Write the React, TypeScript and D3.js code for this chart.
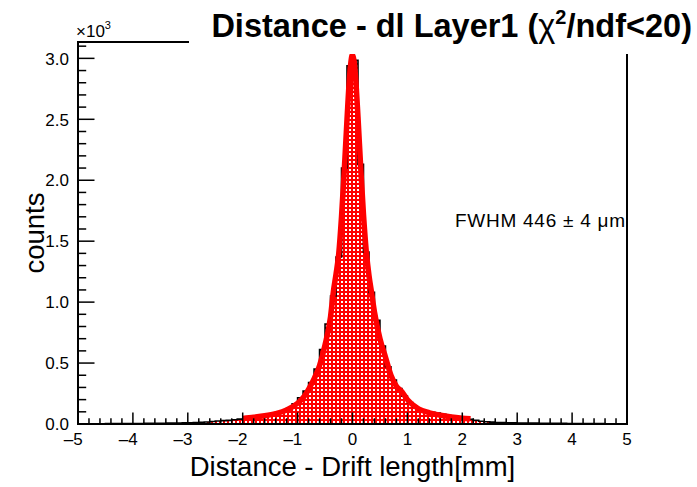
import React from "react";
import * as d3 from "d3";

// ---- data ----
const xDomain: [number, number] = [-5, 5];
const binWidth = 0.1;
// counts for bins left of 0, going outward from 0 towards -5
const countsNegOutward = [
  2940, 2100, 1370, 1050, 820, 610, 450, 340, 270, 215,
  165, 130, 108, 92, 80, 70, 62, 55, 50, 45,
  40, 35, 30, 28, 25, 20, 16, 14, 12, 10,
  9, 8, 8, 7, 6, 6, 5, 5, 4, 4,
  4, 3, 3, 3, 3, 2, 2, 2, 2, 2,
];
// counts for bins right of 0, going outward from 0 towards +5
const countsPosOutward = [
  2985, 2130, 1410, 1080, 850, 640, 470, 360, 290, 230,
  175, 140, 115, 100, 95, 90, 80, 70, 60, 50,
  45, 38, 30, 22, 18, 15, 12, 12, 10, 10,
  8, 8, 7, 7, 6, 6, 5, 5, 5, 4,
  4, 4, 3, 3, 3, 3, 2, 2, 2, 2,
];
const counts = [...countsNegOutward.slice().reverse(), ...countsPosOutward];

// fitted curve samples
const fitX = [-2.0, -1.8, -1.6, -1.4, -1.2, -1.0, -0.9, -0.8, -0.7, -0.6, -0.5, -0.4, -0.35, -0.3, -0.25, -0.2, -0.15, -0.1, -0.05, 0,
  0.05, 0.1, 0.15, 0.2, 0.25, 0.3, 0.35, 0.4, 0.5, 0.6, 0.7, 0.8, 0.9, 1.0, 1.2, 1.4, 1.6, 1.8, 2.0, 2.15];
const fitY = [45, 55, 67, 85, 115, 170, 215, 285, 370, 480, 650, 880, 1080, 1230, 1400, 1700, 2080, 2500, 2870, 3030,
  2880, 2520, 2100, 1720, 1420, 1220, 1070, 920, 700, 550, 400, 310, 265, 200, 125, 92, 72, 58, 48, 42];

const xMajorTicks = [-5, -4, -3, -2, -1, 0, 1, 2, 3, 4, 5];
const yMajorTicks = [0, 500, 1000, 1500, 2000, 2500, 3000];
const yTickLabels = ["0.0", "0.5", "1.0", "1.5", "2.0", "2.5", "3.0"];

const titleMain = "Distance - dl Layer1 (";
const titleChi = "χ";
const titleSup = "2";
const titleRest = "/ndf<20)";
const xTitle = "Distance - Drift length[mm]";
const yTitle = "counts";
const fwhmText = "FWHM 446 ± 4 μm";

// ---- layout ----
const W = 697;
const H = 487;
const L = 78, R = 627, T = 42, B = 424;
const FONT = "'Liberation Sans', Arial, Helvetica, sans-serif";

export default function App() {
  const maxC = d3.max(counts) as number;
  const x = d3.scaleLinear().domain(xDomain).range([L, R]);
  const y = d3.scaleLinear().domain([0, 1.05 * maxC]).range([B, T]);

  const stepPts: [number, number][] = counts.map((c, i) => [xDomain[0] + i * binWidth, c]);
  stepPts.push([xDomain[1], counts[counts.length - 1]]);

  const line = d3.line<[number, number]>().x(d => x(d[0])).y(d => y(d[1])).curve(d3.curveStepAfter);
  const area = d3.area<[number, number]>().x(d => x(d[0])).y0(y(0)).y1(d => y(d[1])).curve(d3.curveStepAfter);

  const fitPts: [number, number][] = fitX.map((v, i) => [v, fitY[i]]);
  const fitLine = d3.line<[number, number]>().x(d => x(d[0])).y(d => y(d[1])).curve(d3.curveMonotoneX);

  const xMinor = d3.range(-5, 5.0001, 0.2).filter(v => Math.abs(v - Math.round(v)) > 1e-6);
  const yMinor = d3.range(0, y.domain()[1], 100).filter(v => v % 500 !== 0);

  const xMajLen = 11.5, xMinLen = 5.7, yMajLen = 16.5, yMinLen = 8.2;

  return (
    <svg width={W} height={H} style={{ position: "absolute", left: 0, top: 0, background: "white" }} fontFamily={FONT}>
      <defs>
        <pattern id="chk" width={4} height={4} patternUnits="userSpaceOnUse">
          <rect width={4} height={4} fill="#ff0000" />
          <rect x={1} y={1} width={2} height={2} fill="#ffffff" />
        </pattern>
      </defs>
      <rect width={W} height={H} fill="white" />

      {/* histogram */}
      <path d={area(stepPts) || ""} fill="url(#chk)" stroke="none" />
      <path d={line(stepPts) || ""} fill="none" stroke="#000" strokeWidth={1.6} />

      {/* fit */}
      <path d={fitLine(fitPts) || ""} fill="none" stroke="#ff0000" strokeWidth={5.5} />

      {/* frame */}
      <rect x={L} y={T} width={R - L} height={B - T} fill="none" stroke="#000" strokeWidth={2} />

      {/* x ticks */}
      {xMajorTicks.map(v => (
        <line key={"xM" + v} x1={x(v)} x2={x(v)} y1={B} y2={B - xMajLen} stroke="#000" strokeWidth={1.5} />
      ))}
      {xMinor.map((v, i) => (
        <line key={"xm" + i} x1={x(v)} x2={x(v)} y1={B} y2={B - xMinLen} stroke="#000" strokeWidth={1.5} />
      ))}
      {xMajorTicks.map(v => {
        const s = String(Math.abs(v));
        if (v < 0) {
          return (
            <text key={"xl" + v} x={x(v) + 4.7} y={445} fontSize={17} textAnchor="end">{"\u2013" + s}</text>
          );
        }
        return (
          <text key={"xl" + v} x={x(v)} y={445} fontSize={17} textAnchor="middle">{s}</text>
        );
      })}

      {/* y ticks */}
      {yMajorTicks.map(v => (
        <line key={"yM" + v} x1={L} x2={L + yMajLen} y1={y(v)} y2={y(v)} stroke="#000" strokeWidth={1.5} />
      ))}
      {yMinor.map((v, i) => (
        <line key={"ym" + i} x1={L} x2={L + yMinLen} y1={y(v)} y2={y(v)} stroke="#000" strokeWidth={1.5} />
      ))}
      {yMajorTicks.map((v, i) => (
        <text key={"yl" + v} x={69} y={y(v) + 6.2} fontSize={17} textAnchor="end">{yTickLabels[i]}</text>
      ))}
      <text x={76} y={37} fontSize={17}>
        ×10<tspan fontSize={11} dy={-8}>3</tspan>
      </text>

      {/* title box */}
      <rect x={189} y={0} width={W - 189} height={54} fill="white" />
      <text x={692} y={37} fontSize={32.5} fontWeight="bold" textAnchor="end">
        {titleMain}
        <tspan fontWeight="normal">{titleChi}</tspan>
        <tspan fontSize={20} dy={-13}>{titleSup}</tspan>
        <tspan dy={13}>{titleRest}</tspan>
      </text>

      {/* texts */}
      <text x={455} y={227} fontSize={19} textLength={170} lengthAdjust="spacing">{fwhmText}</text>
      <text x={(L + R) / 2} y={476} fontSize={27.5} textAnchor="middle">{xTitle}</text>
      <text transform={`translate(44, ${233}) rotate(-90)`} fontSize={27.5} textAnchor="middle">{yTitle}</text>
    </svg>
  );
}
